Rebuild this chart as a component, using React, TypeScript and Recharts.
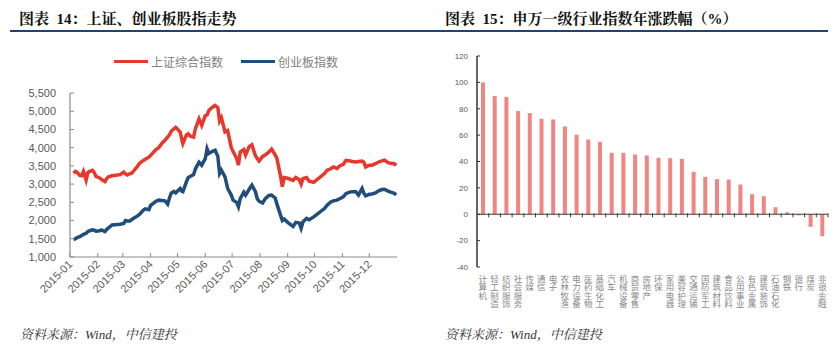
import {
  LineChart,
  Line,
  BarChart,
  Bar,
  XAxis,
  YAxis,
  ReferenceLine,
} from "recharts";

// left chart: SSE composite vs ChiNext, 2015
const dates = [
  "01-05", "01-07", "01-09", "01-12", "01-14", "01-16", "01-19", "01-21", "01-23", "01-26",
  "01-28", "01-30", "02-03", "02-05", "02-09", "02-11", "02-13", "02-17", "02-26", "03-02",
  "03-04", "03-06", "03-09", "03-11", "03-13", "03-17", "03-20", "03-24", "03-26", "03-30",
  "04-01", "04-07", "04-10", "04-14", "04-17", "04-20", "04-22", "04-24", "04-27", "04-29",
  "05-04", "05-06", "05-07", "05-11", "05-13", "05-15", "05-19", "05-21", "05-25", "05-28",
  "06-01", "06-03", "06-05", "06-09", "06-12", "06-15", "06-17", "06-19", "06-23", "06-26",
  "06-30", "07-02", "07-06", "07-08", "07-10", "07-14", "07-16", "07-20", "07-23", "07-27",
  "07-29", "07-31", "08-04", "08-07", "08-11", "08-14", "08-18", "08-20", "08-24", "08-26",
  "08-28", "09-01", "09-07", "09-10", "09-14", "09-16", "09-18", "09-22", "09-25", "09-30",
  "10-12", "10-15", "10-19", "10-22", "10-26", "10-29", "11-02", "11-05", "11-09", "11-12",
  "11-16", "11-19", "11-23", "11-25", "11-27", "12-01", "12-04", "12-08", "12-11", "12-15",
  "12-18", "12-22", "12-25", "12-29", "12-31",
];

const shanghai = [
  3300, 3350, 3320, 3240, 3230, 3350, 3110, 3320, 3350, 3380,
  3320, 3210, 3170, 3130, 3070, 3150, 3200, 3230, 3260, 3330,
  3280, 3250, 3290, 3300, 3360, 3480, 3580, 3650, 3680, 3740,
  3790, 3950, 4000, 4130, 4200, 4290, 4350, 4450, 4520, 4560,
  4430, 4200, 4110, 4350, 4380, 4320, 4290, 4520, 4790, 4610,
  4880, 4900, 5020, 5110, 5160, 5100, 4730, 4820, 4430, 4470,
  4000, 3900, 3700, 3520, 3880, 3950, 3800, 4030, 4080, 3780,
  3700, 3630, 3760, 3800, 3880, 3960, 3800, 3700, 3220, 2930,
  3180, 3160, 3100, 3180, 3120, 3000, 3150, 3180, 3080, 3050,
  3290, 3380, 3420, 3470, 3430, 3500, 3540, 3650, 3640, 3620,
  3610, 3620, 3630, 3600, 3470, 3520, 3520, 3560, 3600, 3640,
  3660, 3590, 3570, 3560, 3510,
];

const chinext = [
  1480, 1500, 1530, 1560, 1590, 1620, 1650, 1700, 1720, 1745,
  1735, 1710, 1720, 1745, 1700, 1760, 1800, 1880, 1900, 1920,
  2000, 1990, 1990, 2030, 2060, 2120, 2180, 2290, 2320, 2300,
  2420, 2530, 2560, 2550, 2540, 2450, 2620, 2750, 2800, 2760,
  2880, 2800, 2790, 3070, 3180, 3210, 3260, 3420, 3600, 3520,
  3700, 3970, 3840, 3900, 3930, 3760, 3290, 3380, 3200, 2880,
  2700, 2560, 2500, 2380, 2600, 2780, 2700, 2860, 2970, 2790,
  2600, 2530, 2480, 2600, 2690, 2700, 2620, 2450, 2150, 2000,
  2040, 1950, 1840, 1950, 1930, 1790, 1960, 2060, 2020, 2100,
  2330, 2420, 2510, 2540, 2560, 2600, 2650, 2740, 2780, 2790,
  2790, 2700, 2880, 2750, 2680, 2720, 2730, 2760, 2810, 2850,
  2860, 2810, 2780, 2750, 2700,
];

const months = [
  "2015-01", "2015-02", "2015-03", "2015-04", "2015-05", "2015-06",
  "2015-07", "2015-08", "2015-09", "2015-10", "2015-11", "2015-12",
];

const shTicks = [1000, 1500, 2000, 2500, 3000, 3500, 4000, 4500, 5000, 5500];

// right chart: Shenwan level-1 industries, 2015 change (%)
const industries = [
  "计算机", "轻工制造", "纺织服饰", "社会服务", "传媒", "通信", "电子", "农林牧渔",
  "电力设备", "医药生物", "基础化工", "汽车", "机械设备", "商贸零售", "房地产", "环保",
  "家用电器", "美容护理", "交通运输", "国防军工", "建筑材料", "食品饮料", "公用事业",
  "有色金属", "建筑装饰", "石油石化", "钢铁", "银行", "煤炭", "非银金融",
];

const changes = [
  100, 89.6, 88.9, 78.2, 76.7, 72.4, 71.9, 66.6,
  60.3, 56.7, 54.9, 46.6, 46.6, 45.3, 44.6, 42.8,
  42.5, 42, 32.2, 28.4, 26.6, 26.3, 22.5,
  15.2, 13.7, 5.3, 1.5, -0.8, -9.5, -16.7,
];

const pctTicks = [-40, -20, 0, 20, 40, 60, 80, 100, 120];

const RED = "#e8382d";
const BLUE = "#1f4e7d";
const CJK = '"Noto Sans CJK SC", sans-serif';
const SERIF = '"Liberation Serif", "Noto Serif CJK SC", "Noto Sans CJK SC", serif';

const dayOfYear = (md: string) => {
  const [m, d] = md.split("-").map(Number);
  return (Date.UTC(2015, m - 1, d) - Date.UTC(2015, 0, 1)) / 86400000;
};

const lineData = dates.map((d, i) => ({
  day: dayOfYear(d),
  sh: shanghai[i],
  cy: chinext[i],
}));

const monthTicks = months.map((m) => dayOfYear(m.slice(5) + "-01"));

const barData = industries.map((name, i) => ({ name, value: changes[i] }));

const MonthTick = ({ x, y, payload }: any) => {
  const idx = monthTicks.indexOf(payload.value);
  return (
    <text
      x={x + 3}
      y={y}
      transform={`rotate(-45 ${x + 3} ${y})`}
      textAnchor="end"
      fontSize={11}
      fill="#595959"
      fontFamily='"Liberation Sans", sans-serif'
    >
      {months[idx]}
    </text>
  );
};

// category names written top to bottom, one character per row
const VerticalTick = ({ x, y, payload }: any) => {
  const chars = Array.from(String(payload.value));
  return (
    <g>
      {chars.map((c, i) => (
        <text
          key={i}
          x={x}
          y={y + 7 + i * 8.4}
          textAnchor="middle"
          fontSize={8.5}
          fill="#8a8a8a"
          fontFamily={CJK}
        >
          {c}
        </text>
      ))}
    </g>
  );
};

// zero line with small marks at category boundaries
const ZeroAxis = (props: any) => {
  const { x1, x2, y1 } = props;
  const n = industries.length;
  const step = (x2 - x1) / n;
  return (
    <g>
      <line x1={x1} x2={x2} y1={y1} y2={y1} stroke="#3a3a3a" strokeWidth={1.2} />
      {industries.map((_, i) => (
        <line
          key={i}
          x1={x1 + step * (i + 1)}
          x2={x1 + step * (i + 1)}
          y1={y1 - 1}
          y2={y1 + 3}
          stroke="#3a3a3a"
          strokeWidth={1}
        />
      ))}
    </g>
  );
};

const LegendItem = ({ color, label }: { color: string; label: string }) => (
  <span style={{ display: "inline-flex", alignItems: "center", marginRight: 18 }}>
    <span style={{ width: 34, height: 3.5, background: color, display: "inline-block", marginRight: 3 }} />
    <span style={{ fontSize: 12, color: "#808080", fontFamily: CJK }}>{label}</span>
  </span>
);

const Title = ({ left, text }: { left: number; text: string }) => (
  <div
    style={{
      position: "absolute",
      left,
      top: 8,
      fontSize: 15,
      fontWeight: 700,
      fontFamily: SERIF,
      color: "#111",
      whiteSpace: "pre",
      lineHeight: "22px",
    }}
  >
    {text}
  </div>
);

const Source = ({ left }: { left: number }) => (
  <div
    style={{
      position: "absolute",
      left,
      top: 326,
      fontSize: 13,
      fontStyle: "italic",
      fontFamily: SERIF,
      color: "#333",
      whiteSpace: "nowrap",
      lineHeight: "18px",
    }}
  >
    资料来源：Wind，中信建投
  </div>
);

export default function App() {
  return (
    <div
      style={{
        position: "absolute",
        left: 0,
        top: 0,
        width: 839,
        height: 355,
        background: "#fff",
        overflow: "hidden",
      }}
    >
      <Title left={19} text="图表  14：上证、创业板股指走势" />
      <Title left={445} text="图表  15：申万一级行业指数年涨跌幅（%）" />
      <div style={{ position: "absolute", left: 10, top: 30, width: 818, height: 2, background: "#1f4470" }} />

      <div style={{ position: "absolute", left: 114, top: 53, whiteSpace: "nowrap", display: "flex" }}>
        <LegendItem color={RED} label="上证综合指数" />
        <LegendItem color={BLUE} label="创业板指数" />
      </div>

      <div style={{ position: "absolute", left: 0, top: 70 }}>
        <LineChart
          width={420}
          height={270}
          data={lineData}
          margin={{ top: 23, right: 23, bottom: 23, left: 10 }}
        >
          <XAxis
            dataKey="day"
            type="number"
            domain={[0, 365]}
            ticks={monthTicks}
            interval={0}
            tick={<MonthTick />}
            tickSize={-4}
            tickMargin={12}
            height={60}
            axisLine={{ stroke: "#8c8c8c", strokeWidth: 1.2 }}
            tickLine={{ stroke: "#8c8c8c" }}
          />
          <YAxis
            domain={[1000, 5500]}
            ticks={shTicks}
            interval={0}
            width={60}
            tickSize={-4}
            tickMargin={18}
            tickFormatter={(v: number) => v.toLocaleString("en-US")}
            tick={{ fontSize: 11, fill: "#595959", fontFamily: '"Liberation Sans", sans-serif' }}
            axisLine={{ stroke: "#8c8c8c", strokeWidth: 1.2 }}
            tickLine={{ stroke: "#8c8c8c" }}
          />
          <Line
            dataKey="sh"
            type="linear"
            stroke={RED}
            strokeWidth={3.5}
            dot={false}
            isAnimationActive={false}
          />
          <Line
            dataKey="cy"
            type="linear"
            stroke={BLUE}
            strokeWidth={3.5}
            dot={false}
            isAnimationActive={false}
          />
        </LineChart>
      </div>

      <div style={{ position: "absolute", left: 420, top: 40 }}>
        <BarChart
          width={419}
          height={280}
          data={barData}
          margin={{ top: 16, right: 11, bottom: 3, left: 0 }}
          barCategoryGap="0%"
        >
          <XAxis
            dataKey="name"
            interval={0}
            axisLine={false}
            tickLine={false}
            tick={<VerticalTick />}
            height={50}
          />
          <YAxis
            domain={[-40, 120]}
            ticks={pctTicks}
            interval={0}
            width={57}
            tickSize={-3}
            tickMargin={12}
            tick={{ fontSize: 8, fill: "#595959", fontFamily: '"Liberation Sans", sans-serif' }}
            axisLine={{ stroke: "#333", strokeWidth: 1.5 }}
            tickLine={{ stroke: "#333" }}
          />
          <ReferenceLine y={0} shape={<ZeroAxis />} />
          <Bar dataKey="value" fill="#f08682" barSize={4} isAnimationActive={false} />
        </BarChart>
      </div>

      <Source left={20} />
      <Source left={445} />
    </div>
  );
}
